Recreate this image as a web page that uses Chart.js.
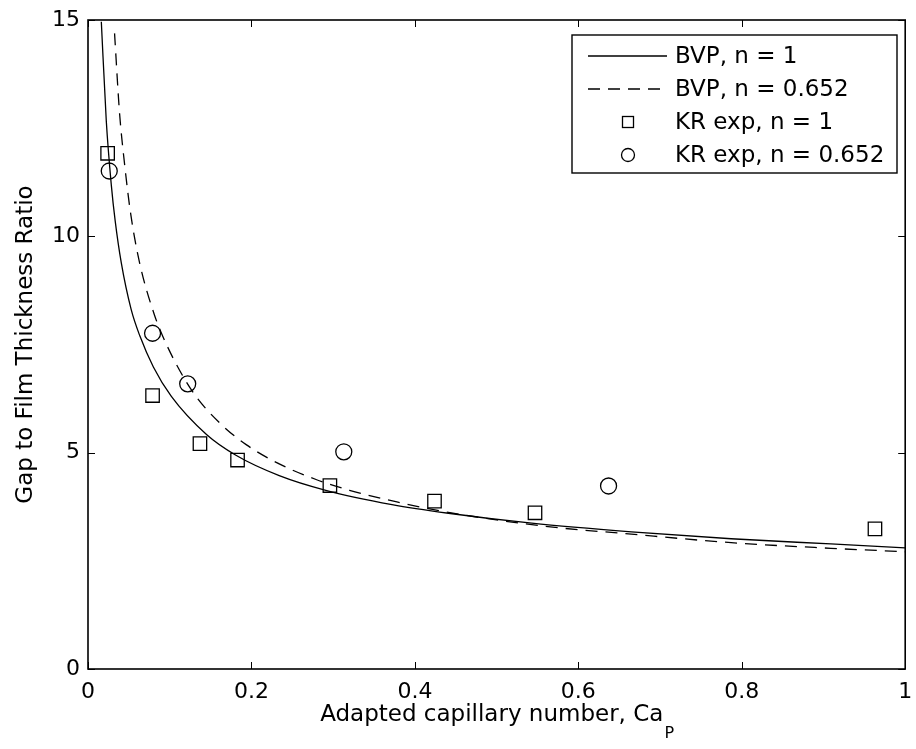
<!DOCTYPE html>
<html>
<head>
<meta charset="utf-8">
<title>Gap to film thickness ratio</title>
<script src="https://cdn.jsdelivr.net/npm/chart.js@4.4.1/dist/chart.umd.min.js"></script>
<style>
  body { margin: 0; background: #fff; }
  #chart { display: block; }
</style>
</head>
<body>
<canvas id="chart" width="916" height="749"></canvas>
<script>
// BVP curves
const bvp1X = [0.0163, 0.0224, 0.0285, 0.0333, 0.0407, 0.0528, 0.0634, 0.080, 0.102, 0.145, 0.181, 0.234, 0.291, 0.372, 0.441, 0.543, 0.665, 0.787, 0.909, 1.0];
const bvp1Y = [14.96, 12.66, 11.19, 10.35, 9.39, 8.31, 7.70, 6.98, 6.30, 5.42, 4.94, 4.47, 4.13, 3.80, 3.60, 3.37, 3.17, 3.01, 2.89, 2.80];

const bvp2X = [0.0325, 0.0386, 0.0447, 0.052, 0.063, 0.081, 0.096, 0.128, 0.161, 0.194, 0.234, 0.279, 0.320, 0.378, 0.441, 0.563, 0.657, 0.787, 0.909, 1.0];
const bvp2Y = [14.69, 12.85, 11.68, 10.55, 9.40, 8.20, 7.50, 6.41, 5.69, 5.18, 4.74, 4.38, 4.13, 3.86, 3.62, 3.29, 3.13, 2.92, 2.79, 2.71];

// KR experiments
const kr1X = [0.024, 0.079, 0.137, 0.183, 0.296, 0.424, 0.547, 0.963];
const kr1Y = [11.92, 6.32, 5.21, 4.83, 4.24, 3.88, 3.61, 3.24];

const kr2X = [0.026, 0.079, 0.122, 0.313, 0.637];
const kr2Y = [11.51, 7.76, 6.59, 5.02, 4.23];

const seriesNames = ['BVP, n = 1', 'BVP, n = 0.652', 'KR exp, n = 1', 'KR exp, n = 0.652'];

const FONT = "'DejaVu Sans', sans-serif";

function pts(xs, ys) {
    return xs.map((x, i) => ({ x: x, y: ys[i] }));
}

// inward ticks on all four sides, the box, and the x title with its subscript
const boxTicks = {
    id: 'boxTicks',
    afterDraw(chart) {
        const ctx = chart.ctx;
        const a = chart.chartArea;
        const xs = chart.scales.x, ys = chart.scales.y;
        const len = 7;
        ctx.save();
        ctx.strokeStyle = '#000';
        ctx.lineWidth = 1;
        ctx.beginPath();
        xs.ticks.forEach(t => {
            const px = Math.round(xs.getPixelForValue(t.value)) + 0.5;
            ctx.moveTo(px, a.bottom); ctx.lineTo(px, a.bottom - len);
            ctx.moveTo(px, a.top); ctx.lineTo(px, a.top + len);
        });
        ys.ticks.forEach(t => {
            const py = Math.round(ys.getPixelForValue(t.value)) + 0.5;
            ctx.moveTo(a.left, py); ctx.lineTo(a.left + len, py);
            ctx.moveTo(a.right, py); ctx.lineTo(a.right - len, py);
        });
        ctx.stroke();
        ctx.lineWidth = 1.6;
        ctx.strokeRect(a.left, a.top, a.right - a.left, a.bottom - a.top);

        const main = 'Adapted capillary number, Ca';
        ctx.fillStyle = '#000';
        ctx.font = '23px ' + FONT;
        const w1 = ctx.measureText(main).width;
        ctx.font = '16px ' + FONT;
        const w2 = ctx.measureText('P').width;
        const cx = (a.left + a.right) / 2;
        const x0 = cx - (w1 + w2) / 2;
        ctx.textBaseline = 'alphabetic';
        ctx.textAlign = 'left';
        ctx.font = '23px ' + FONT;
        ctx.fillText(main, x0, 721);
        ctx.font = '16px ' + FONT;
        ctx.fillText('P', x0 + w1 + 1, 738);
        ctx.restore();
    }
};

// MATLAB-style legend inside the plot, upper right
const boxLegend = {
    id: 'boxLegend',
    afterDraw(chart) {
        const ctx = chart.ctx;
        const left = 572, top = 35, right = 897, bottom = 173;
        const rows = [56, 89, 122, 155];
        ctx.save();
        ctx.fillStyle = '#fff';
        ctx.fillRect(left, top, right - left, bottom - top);
        ctx.strokeStyle = '#000';
        ctx.lineWidth = 1.4;
        ctx.strokeRect(left, top, right - left, bottom - top);
        chart.data.datasets.forEach((ds, i) => {
            const y = rows[i];
            ctx.lineWidth = 1.3;
            ctx.setLineDash(ds.borderDash || []);
            if (ds.showLine) {
                ctx.beginPath();
                ctx.moveTo(588, y); ctx.lineTo(667, y);
                ctx.stroke();
            } else if (ds.pointStyle === 'rect') {
                ctx.strokeRect(622.5, y - 5.5, 11, 11);
            } else {
                ctx.beginPath();
                ctx.arc(628, y, 6.5, 0, Math.PI * 2);
                ctx.stroke();
            }
            ctx.setLineDash([]);
            ctx.fillStyle = '#000';
            ctx.font = '23px ' + FONT;
            ctx.textBaseline = 'middle';
            ctx.textAlign = 'left';
            ctx.fillText(ds.label, 675, y + 1);
        });
        ctx.restore();
    }
};

new Chart(document.getElementById('chart'), {
    type: 'scatter',
    data: {
        datasets: [
            {
                label: seriesNames[0],
                data: pts(bvp1X, bvp1Y),
                showLine: true,
                borderColor: '#000',
                borderWidth: 1.3,
                pointRadius: 0,
                cubicInterpolationMode: 'monotone'
            },
            {
                label: seriesNames[1],
                data: pts(bvp2X, bvp2Y),
                showLine: true,
                borderColor: '#000',
                borderWidth: 1.3,
                borderDash: [12, 8],
                pointRadius: 0,
                cubicInterpolationMode: 'monotone'
            },
            {
                label: seriesNames[2],
                data: pts(kr1X, kr1Y),
                showLine: false,
                pointStyle: 'rect',
                pointRadius: 9.5,
                pointBorderWidth: 1.3,
                pointBorderColor: '#000',
                pointBackgroundColor: 'rgba(0,0,0,0)'
            },
            {
                label: seriesNames[3],
                data: pts(kr2X, kr2Y),
                showLine: false,
                pointStyle: 'circle',
                pointRadius: 8,
                pointBorderWidth: 1.3,
                pointBorderColor: '#000',
                pointBackgroundColor: 'rgba(0,0,0,0)'
            }
        ]
    },
    options: {
        responsive: false,
        animation: false,
        devicePixelRatio: 1,
        layout: { padding: { top: 20, right: 0, left: 0, bottom: 0 } },
        plugins: {
            legend: { display: false },
            tooltip: { enabled: false }
        },
        scales: {
            x: {
                type: 'linear',
                min: 0,
                max: 1,
                grid: { display: false, drawTicks: false },
                border: { display: false },
                ticks: {
                    stepSize: 0.2,
                    color: '#000',
                    padding: 10,
                    maxRotation: 0,
                    font: { family: FONT, size: 22 },
                    callback: v => String(Math.round(v * 10) / 10)
                },
                afterFit(scale) {
                    scale.height = 80;
                    scale.paddingLeft = 0;
                    scale.paddingRight = 8;
                }
            },
            y: {
                type: 'linear',
                min: 0,
                max: 15,
                grid: { display: false, drawTicks: false },
                border: { display: false },
                ticks: {
                    stepSize: 5,
                    color: '#000',
                    padding: 8,
                    font: { family: FONT, size: 22 }
                },
                title: {
                    display: true,
                    text: 'Gap to Film Thickness Ratio',
                    color: '#000',
                    padding: { top: 12, bottom: 0 },
                    font: { family: FONT, size: 23 }
                },
                afterFit(scale) {
                    scale.width = 88;
                    scale.paddingTop = 0;
                    scale.paddingBottom = 0;
                }
            }
        }
    },
    plugins: [boxTicks, boxLegend]
});
</script>
</body>
</html>
